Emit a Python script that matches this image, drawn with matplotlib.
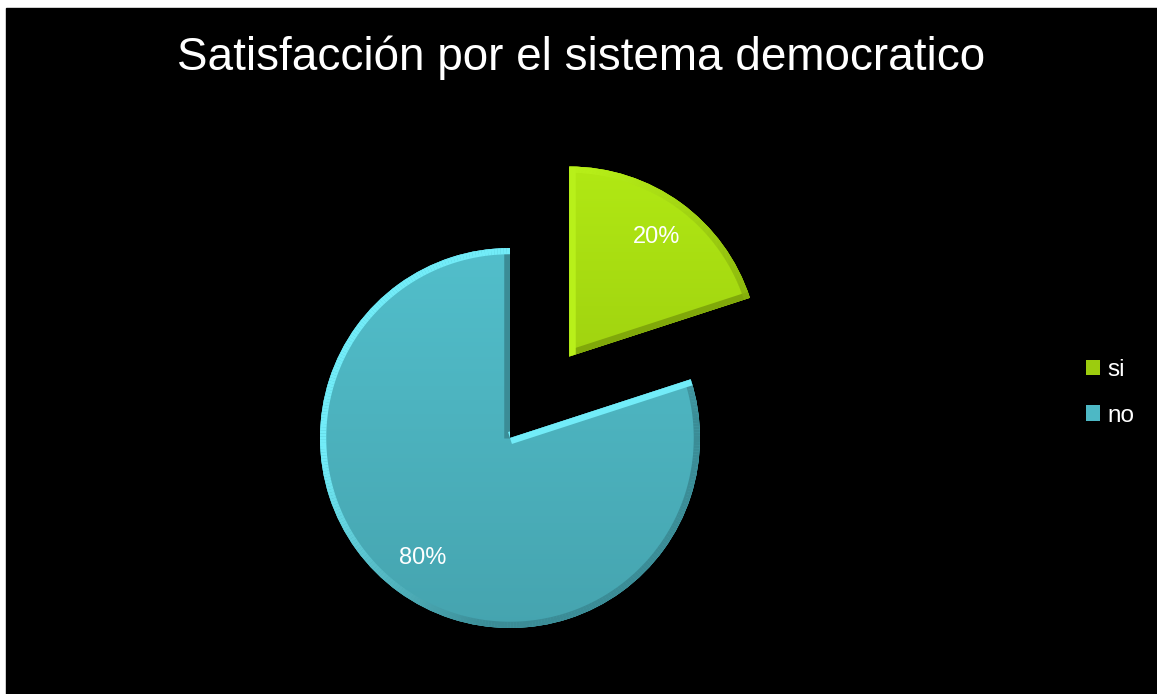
import numpy as np
import matplotlib
matplotlib.use("Agg")
import matplotlib.pyplot as plt
from matplotlib.patches import Rectangle
from matplotlib.collections import LineCollection
from matplotlib.colors import to_rgb

# data
labels = ['si', 'no']
values = [20, 80]
colors = ['#9ccc0e', '#4db8c5']
tops = ['#b2ea14', '#55c5d2']      # lighter top of the gradient
bottoms = ['#88b30a', '#45a3ae']   # darker bottom of the gradient
light_edge = ['#b8f01a', '#72ecf8']
dark_edge = ['#80a80a', '#3b8c96']
explode = [0.53, 0]

title = 'Satisfacción por el sistema democratico'

fig = plt.figure(figsize=(11.57, 6.94), dpi=100)
fig.patch.set_facecolor('white')
# black slide area with thin white margin on left/top
fig.patches.append(Rectangle((6 / 1157, 0), 1 - 6 / 1157, 1 - 8 / 694,
                             transform=fig.transFigure, color='black', zorder=-10))

# pie axes: centre at (510, 438) px, radius ~190 px
R = 190
L = 1.8
w = 2 * L * R / 1157
h = 2 * L * R / 694
cx, cy = 510 / 1157, (694 - 438) / 694
ax = fig.add_axes([cx - w / 2, cy - h / 2, w, h])
ax.set_facecolor('none')
ax.set_zorder(5)

wedges, texts, autotexts = ax.pie(values, colors=colors, explode=explode,
                                  startangle=90, counterclock=False,
                                  autopct='%1.0f%%', pctdistance=0.78,
                                  textprops=dict(color='white', fontsize=17,
                                                 family='Liberation Sans'))

# vertical gradient inside each wedge
for wdg, c1, c2 in zip(wedges, tops, bottoms):
    cmap = matplotlib.colors.LinearSegmentedColormap.from_list('g', [c2, c1])
    grad = np.linspace(0, 1, 256).reshape(-1, 1)
    im = ax.imshow(grad, cmap=cmap, origin='lower', aspect='auto',
                   extent=[-1.6, 1.6, -1.1, 1.5], zorder=1)
    im.set_clip_path(wdg)
    wdg.set_zorder(0)
    wdg.set_edgecolor('none')

# bevel rim: each facet shaded by its outward normal, light from upper-left
light_dir = np.array([-1.0, 1.0]) / np.sqrt(2)
for wdg, lc, dc in zip(wedges, light_edge, dark_edge):
    x0, y0 = wdg.center
    th = np.radians(np.linspace(wdg.theta1, wdg.theta2, 300))
    px = np.concatenate([[x0], x0 + wdg.r * np.cos(th), [x0]])
    py = np.concatenate([[y0], y0 + wdg.r * np.sin(th), [y0]])
    pts = np.column_stack([px, py])
    segs = np.stack([pts[:-1], pts[1:]], axis=1)
    d = segs[:, 1] - segs[:, 0]
    nrm = np.column_stack([d[:, 1], -d[:, 0]])
    nrm /= np.linalg.norm(nrm, axis=1, keepdims=True)
    t = (nrm @ light_dir + 1) / 2
    t = np.clip((t - 0.5) * 1.6 + 0.5, 0, 1)
    cols = np.outer(1 - t, to_rgb(dc)) + np.outer(t, to_rgb(lc))
    lcoll = LineCollection(segs, colors=cols, linewidths=9, zorder=2,
                           capstyle='butt', joinstyle='miter')
    ax.add_collection(lcoll)
    lcoll.set_clip_path(wdg)

for t in autotexts:
    t.set_zorder(5)

ax.set_xlim(-L, L)
ax.set_ylim(-L, L)
ax.set_aspect('equal')
ax.axis('off')

fig.text(581 / 1157, 1 - 58 / 694, title, color='white', fontsize=33,
         family='Liberation Sans', ha='center', va='center')

# legend
leg = fig.legend(wedges, labels, loc='center left', bbox_to_anchor=(1064 / 1157, 1 - 393 / 694),
                 frameon=False, labelcolor='white',
                 prop=dict(family='Liberation Sans', size=17.5),
                 handlelength=0.58, handleheight=0.58, handletextpad=0.3, labelspacing=0.95)

fig.savefig('out.png', dpi=100, facecolor=fig.get_facecolor())
